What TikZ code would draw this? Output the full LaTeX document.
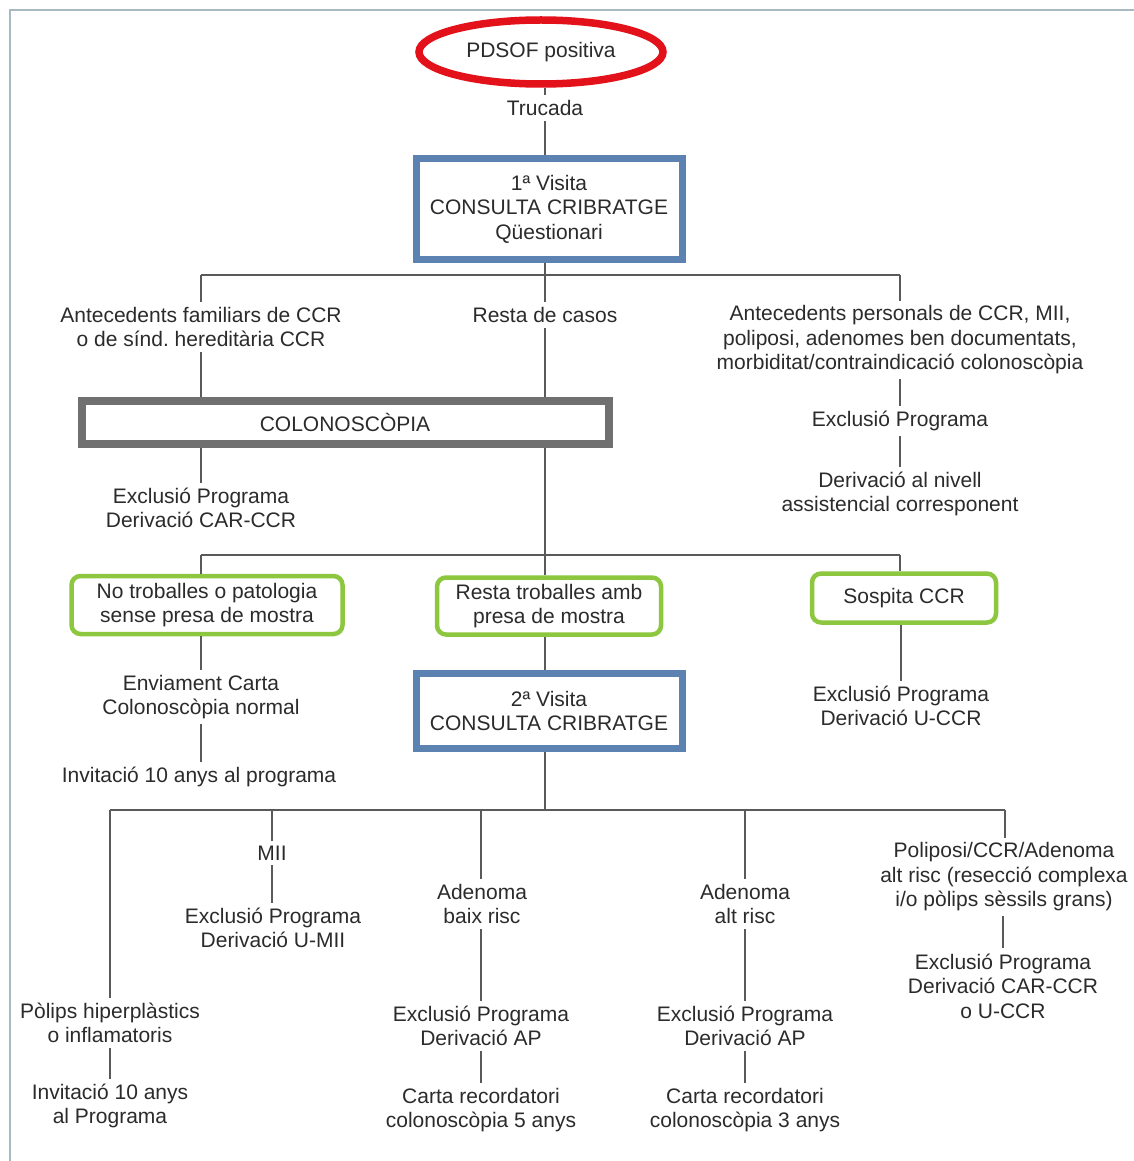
\documentclass[tikz,border=0pt]{standalone}
\usepackage{fontspec}
\setmainfont{Liberation Sans}
\usetikzlibrary{shapes.geometric}
\definecolor{ink}{HTML}{2B2B2B}
\definecolor{wire}{HTML}{5A5A5A}
\definecolor{ringred}{HTML}{E3121A}
\definecolor{visitblue}{HTML}{5B82B0}
\definecolor{colgray}{HTML}{707070}
\definecolor{okgreen}{HTML}{8DC63F}
\definecolor{framegray}{HTML}{A9B9C2}

\begin{document}
\frenchspacing
\begin{tikzpicture}[x=1pt,y=-1pt]
\tikzset{txt/.style = {font=\fontsize{21}{24.5}\selectfont, align=center, text=ink, inner sep=5pt}}
\tikzset{ring/.style = {txt, shape=ellipse, draw=ringred, line width=7.5pt, minimum width=244pt, minimum height=64pt}}
\tikzset{visit/.style = {txt, draw=visitblue, line width=7pt, minimum width=266pt}}
\tikzset{colbox/.style = {txt, draw=colgray, line width=8pt, minimum width=527pt, minimum height=43pt}}
\tikzset{find/.style = {txt, draw=okgreen, line width=4.5pt, rounded corners=9pt}}
\tikzset{wire/.style = {draw=wire, line width=1.3pt}}
\useasboundingbox (0,0) rectangle (1134,1161);
\fill[white] (0,0) rectangle (1134,1161);
\draw[framegray, line width=2pt] (10,1161) -- (10,10) -- (1134,10);
% vertices
\node[ring] (pd) at (541,52) {PDSOF positiva};
\node[txt] (tr) at (545,108) {Trucada};
\node[visit, minimum height=101pt] (v1) at (549,209) {1ª Visita\\CONSULTA CRIBRATGE\\Qüestionari};
\node[txt] (af) at (201,327) {Antecedents familiars de CCR\\o de sínd. hereditària CCR};
\node[txt] (rc) at (545,315) {Resta de casos};
\node[txt] (ap) at (900,340) {Antecedents personals de CCR, MII,\\poliposi, adenomes ben documentats,\\morbiditat/contraindicació colonoscòpia};
\node[colbox] (col) at (345,422) {COLONOSCÒPIA};
\node[txt] (ex1) at (201,508) {Exclusió Programa\\Derivació CAR-CCR};
\node[txt] (ex2) at (900,421) {Exclusió Programa};
\node[txt] (dn) at (900,494) {Derivació al nivell\\assistencial corresponent};
\node[find, minimum width=271pt, minimum height=58pt] (g1) at (207,605) {No troballes o patologia\\sense presa de mostra};
\node[find, minimum width=224pt, minimum height=57pt] (g2) at (549,606) {Resta troballes amb\\presa de mostra};
\node[find, minimum width=184pt, minimum height=49pt] (g3) at (904,598) {Sospita CCR};
\node[txt] (en) at (201,697) {Enviament Carta\\Colonoscòpia normal};
\node[txt] (in1) at (199,777) {Invitació 10 anys al programa};
\node[visit, minimum height=75pt] (v2) at (549,711) {2ª Visita\\CONSULTA CRIBRATGE};
\node[txt] (ex3) at (901,706) {Exclusió Programa\\Derivació U-CCR};
\node[txt] (mii) at (272,853) {MII};
\node[txt] (ex4) at (273,928) {Exclusió Programa\\Derivació U-MII};
\node[txt] (ab) at (482,904) {Adenoma\\baix risc};
\node[txt] (ex5) at (481,1026) {Exclusió Programa\\Derivació AP};
\node[txt] (cr5) at (481,1110) {Carta recordatori\\colonoscòpia 5 anys};
\node[txt] (aa) at (745,904) {Adenoma\\alt risc};
\node[txt] (ex6) at (745,1026) {Exclusió Programa\\Derivació AP};
\node[txt] (cr3) at (745,1110) {Carta recordatori\\colonoscòpia 3 anys};
\node[txt] (po) at (1004,877) {Poliposi/CCR/Adenoma\\alt risc (resecció complexa\\i/o pòlips sèssils grans)};
\node[txt] (ex7) at (1003,986) {Exclusió Programa\\Derivació CAR-CCR\\o U-CCR};
\node[txt] (ph) at (110,1023) {Pòlips hiperplàstics\\o inflamatoris};
\node[txt] (in2) at (110,1106) {Invitació 10 anys\\al Programa};
% junctions
\coordinate (j1) at (545,275);
\coordinate (j1l) at (201,275);
\coordinate (j1r) at (900,275);
\coordinate (j2) at (545,555);
\coordinate (j2l) at (201,555);
\coordinate (j2r) at (900,555);
\coordinate (j3) at (545,810);
\coordinate (j3l) at (110,810);
\coordinate (j3r) at (1005,810);
%edges
\path[wire] (pd.south -| tr) -- (tr);
\path[wire] (tr) -- (v1.north -| tr);
\path[wire] (v1.south -| j1) -- (j1);
\path[wire] (j1l) -- (j1r);
\path[wire] (j1l) -- (af);
\path[wire] (j1) -- (rc);
\path[wire] (j1r) -- (ap);
\path[wire] (af) -- (col.north -| af);
\path[wire] (rc) -- (col.north -| rc);
\path[wire] (col.south -| rc) -- (j2);
\path[wire] (col.south -| af) -- (ex1);
\path[wire] (ap) -- (ex2);
\path[wire] (ex2) -- (dn);
\path[wire] (j2l) -- (j2r);
\path[wire] (j2l) -- (g1.north -| j2l);
\path[wire] (j2) -- (g2.north -| j2);
\path[wire] (j2r) -- (g3.north -| j2r);
\path[wire] (g1.south -| en) -- (en);
\path[wire] (en) -- (in1.north -| en);
\path[wire] (g2.south -| j2) -- (v2.north -| j2);
\path[wire] (g3.south -| ex3) -- (ex3);
\path[wire] (v2.south -| j3) -- (j3);
\path[wire] (j3l) -- (j3r);
\path[wire] (j3l) -- (ph);
\path[wire] (j3l -| mii) -- (mii);
\path[wire] (j3l -| ex5) -- (ab.north -| ex5);
\path[wire] (j3l -| aa) -- (aa);
\path[wire] (j3r) -- (po.north -| j3r);
\path[wire] (mii) -- (ex4.north -| mii);
\path[wire] (ab.south -| ex5) -- (ex5);
\path[wire] (ex5) -- (cr5);
\path[wire] (aa) -- (ex6);
\path[wire] (ex6) -- (cr3);
\path[wire] (po.south -| ex7) -- (ex7);
\path[wire] (ph) -- (in2);
\end{tikzpicture}
\end{document}
